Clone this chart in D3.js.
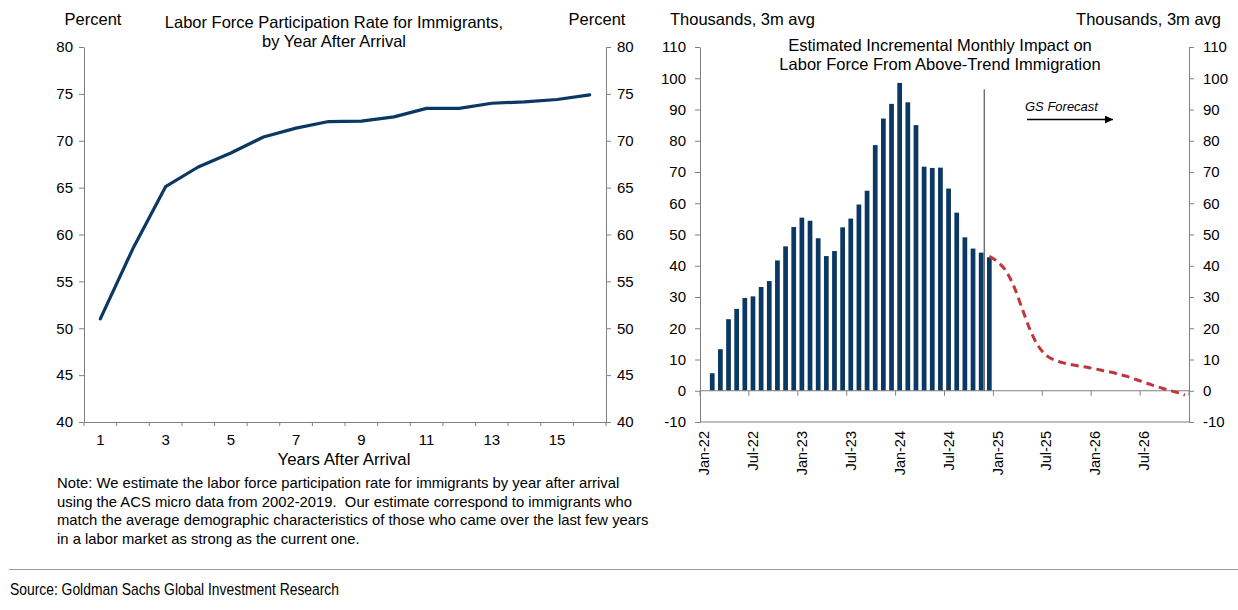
<!DOCTYPE html>
<html><head><meta charset="utf-8">
<script src="https://cdn.jsdelivr.net/npm/d3@7"></script>
<style>
body{margin:0;background:#fff;}
svg text{font-family:"Liberation Sans",Arial,sans-serif;fill:#000;}
</style></head><body>
<svg id="c" width="1238" height="610"></svg>
<script>
// ---------- data ----------
const years = [1,2,3,4,5,6,7,8,9,10,11,12,13,14,15,16];
const lfpr = [51.0,58.5,65.1,67.2,68.7,70.4,71.35,72.05,72.1,72.55,73.45,73.45,74.0,74.15,74.4,74.9];
const yearTickLabels = [1,3,5,7,9,11,13,15];
const leftYTicks = [40,45,50,55,60,65,70,75,80];

const monthLabels = ["Jan-22","Feb-22","Mar-22","Apr-22","May-22","Jun-22","Jul-22","Aug-22","Sep-22","Oct-22","Nov-22","Dec-22",
"Jan-23","Feb-23","Mar-23","Apr-23","May-23","Jun-23","Jul-23","Aug-23","Sep-23","Oct-23","Nov-23","Dec-23",
"Jan-24","Feb-24","Mar-24","Apr-24","May-24","Jun-24","Jul-24","Aug-24","Sep-24","Oct-24","Nov-24","Dec-24",
"Jan-25","Feb-25","Mar-25","Apr-25","May-25","Jun-25","Jul-25","Aug-25","Sep-25","Oct-25","Nov-25","Dec-25",
"Jan-26","Feb-26","Mar-26","Apr-26","May-26","Jun-26","Jul-26","Aug-26","Sep-26","Oct-26","Nov-26","Dec-26"];
const monthTickLabels = ["Jan-22","Jul-22","Jan-23","Jul-23","Jan-24","Jul-24","Jan-25","Jul-25","Jan-26","Jul-26"];
// actual bars: Feb-22 .. Dec-24
const impactStart = "Feb-22";
const impact = [5.6,13.3,22.9,26.2,29.7,30.2,33.2,35.1,41.7,46.2,52.4,55.4,54.4,48.8,43.1,44.7,52.3,55.1,59.6,64.0,
78.6,87.1,91.8,98.5,92.3,85.0,71.7,71.3,71.4,64.7,57.0,49.1,45.5,44.2,42.7];
// GS forecast: Dec-24 .. Dec-26
const forecastStart = "Dec-24";
const forecast = [43.0,41.3,38.5,33.5,26.5,19.5,14.3,11.3,9.8,9.0,8.4,7.9,7.5,7.0,6.4,5.9,5.2,4.5,3.6,2.7,1.8,1.0,0.2,-0.5,-1.4];
const rightYTicks = [-10,0,10,20,30,40,50,60,70,80,90,100,110];

// ---------- styles ----------
const AX = "#808080", NAVY = "#0b3862", RED = "#c0363a";
const svg = d3.select("#c");
const fmt = d => String(d);

function styleAxis(g){
  g.selectAll("path.domain").attr("stroke",AX);
  g.selectAll(".tick line").attr("stroke",AX);
  g.selectAll(".tick text").attr("font-size","15px").attr("fill","#000")
   .attr("font-family",'"Liberation Sans",Arial,sans-serif');
}

// ---------- left chart ----------
const xL = d3.scaleBand().domain(years).range([84,606]);
const yL = d3.scaleLinear().domain([40,80]).range([422,47]);

svg.append("g").attr("transform","translate(84,0)")
  .call(d3.axisLeft(yL).tickValues(leftYTicks).tickFormat(fmt).tickSize(5).tickSizeOuter(0).tickPadding(6)).call(styleAxis);
svg.append("g").attr("transform","translate(606,0)")
  .call(d3.axisRight(yL).tickValues(leftYTicks).tickFormat(fmt).tickSize(5).tickSizeOuter(0).tickPadding(6)).call(styleAxis);
// bottom axis: labels at odd years, ticks at band boundaries
const gxl = svg.append("g").attr("transform","translate(0,422)")
  .call(d3.axisBottom(xL).tickValues(yearTickLabels).tickFormat(fmt).tickSize(0).tickSizeOuter(0).tickPadding(12)).call(styleAxis);
gxl.selectAll(".tick line").remove();
gxl.selectAll(".bt").data(d3.range(years.length+1)).enter().append("line")
  .attr("x1",i=>xL(years[0])+i*xL.step()).attr("x2",i=>xL(years[0])+i*xL.step())
  .attr("y1",0).attr("y2",4).attr("stroke",AX);

svg.append("path").datum(lfpr)
  .attr("fill","none").attr("stroke",NAVY).attr("stroke-width",3.2)
  .attr("stroke-linejoin","round").attr("stroke-linecap","round")
  .attr("d",d3.line().x((d,i)=>xL(years[i])+xL.bandwidth()/2).y(d=>yL(d)));

svg.append("text").attr("x",93).attr("y",25).attr("text-anchor","middle").attr("font-size","16.5px").text("Percent");
svg.append("text").attr("x",597).attr("y",25).attr("text-anchor","middle").attr("font-size","16.5px").text("Percent");
svg.append("text").attr("x",334).attr("y",28).attr("text-anchor","middle").attr("font-size","16.5px").text("Labor Force Participation Rate for Immigrants,");
svg.append("text").attr("x",334).attr("y",47).attr("text-anchor","middle").attr("font-size","16.5px").text("by Year After Arrival");
svg.append("text").attr("x",344).attr("y",465).attr("text-anchor","middle").attr("font-size","16.8px").text("Years After Arrival");

const note = ["Note: We estimate the labor force participation rate for immigrants by year after arrival",
"using the ACS micro data from 2002-2019.  Our estimate correspond to immigrants who",
"match the average demographic characteristics of those who came over the last few years",
"in a labor market as strong as the current one."];
svg.append("g").selectAll("text").data(note).enter().append("text")
  .attr("x",57).attr("y",(d,i)=>488+i*18.5).attr("font-size","14.8px").attr("xml:space","preserve").text(d=>d);

// ---------- right chart ----------
const xR = d3.scaleBand().domain(monthLabels).range([700,1189]);
const yR = d3.scaleLinear().domain([-10,110]).range([422,47]);
const cx = m => xR(m)+xR.bandwidth()/2;

svg.append("g").attr("transform","translate(700,0)")
  .call(d3.axisLeft(yR).tickValues(rightYTicks).tickFormat(fmt).tickSize(5).tickSizeOuter(0).tickPadding(9)).call(styleAxis);
svg.append("g").attr("transform","translate(1189,0)")
  .call(d3.axisRight(yR).tickValues(rightYTicks).tickFormat(fmt).tickSize(5).tickSizeOuter(0).tickPadding(9)).call(styleAxis);
// bottom frame line at -10
svg.append("line").attr("x1",700).attr("x2",1189).attr("y1",yR(-10)).attr("y2",yR(-10)).attr("stroke",AX);

// bars
const i0 = monthLabels.indexOf(impactStart);
const bw = xR.bandwidth()*0.58;
svg.append("g").selectAll("rect").data(impact).enter().append("rect")
  .attr("x",(d,i)=>cx(monthLabels[i0+i])-bw/2).attr("width",bw)
  .attr("y",d=>yR(d)).attr("height",d=>yR(0)-yR(d)).attr("fill",NAVY);

// zero line with ticks every 6 months
svg.append("line").attr("x1",700).attr("x2",1189).attr("y1",yR(0)).attr("y2",yR(0)).attr("stroke",AX);
svg.append("g").selectAll("line").data(d3.range(0,monthLabels.length+1,6)).enter().append("line")
  .attr("x1",i=>700+i*xR.step()).attr("x2",i=>700+i*xR.step())
  .attr("y1",yR(0)).attr("y2",yR(0)+5).attr("stroke",AX);

// month labels (rotated)
svg.append("g").selectAll("text").data(monthTickLabels).enter().append("text")
  .attr("transform",d=>`translate(${cx(d)},${yR(-10)+9}) rotate(-90)`)
  .attr("dy","0.35em").attr("text-anchor","end").attr("font-size","14.5px").text(d=>d);

// forecast divider
const divX = xR("Dec-24");
svg.append("line").attr("x1",divX-1).attr("x2",divX-1).attr("y1",yR(96.5)).attr("y2",yR(0))
  .attr("stroke","#555").attr("stroke-width",1.2);

// forecast line
const f0 = monthLabels.indexOf(forecastStart);
svg.append("path").datum(forecast)
  .attr("fill","none").attr("stroke",RED).attr("stroke-width",3).attr("stroke-dasharray","8,5")
  .attr("d",d3.line().curve(d3.curveMonotoneX).x((d,i)=>cx(monthLabels[f0+i])).y(d=>yR(d)));

// GS forecast annotation
svg.append("text").attr("x",1025).attr("y",111).attr("font-size","13px").attr("font-style","italic").text("GS Forecast");
svg.append("defs").append("marker").attr("id","ah").attr("viewBox","0 0 10 10").attr("refX",10).attr("refY",5)
  .attr("markerWidth",9).attr("markerHeight",8).attr("markerUnits","userSpaceOnUse").attr("orient","auto")
  .append("path").attr("d","M0,0L10,5L0,10Z").attr("fill","#000");
svg.append("line").attr("x1",1027).attr("x2",1113).attr("y1",119.5).attr("y2",119.5)
  .attr("stroke","#000").attr("stroke-width",1.3).attr("marker-end","url(#ah)");

svg.append("text").attr("x",670).attr("y",25).attr("font-size","16.5px").text("Thousands, 3m avg");
svg.append("text").attr("x",1221).attr("y",25).attr("text-anchor","end").attr("font-size","16.5px").text("Thousands, 3m avg");
svg.append("text").attr("x",940).attr("y",51).attr("text-anchor","middle").attr("font-size","16.5px").text("Estimated Incremental Monthly Impact on");
svg.append("text").attr("x",940).attr("y",70).attr("text-anchor","middle").attr("font-size","16.5px").text("Labor Force From Above-Trend Immigration");

// ---------- footer ----------
svg.append("line").attr("x1",9).attr("x2",1238).attr("y1",569.5).attr("y2",569.5).attr("stroke","#999").attr("stroke-width",1);
svg.append("text").attr("x",10).attr("y",595).attr("font-size","17px").attr("fill","#333")
  .attr("textLength",329).attr("lengthAdjust","spacingAndGlyphs")
  .text("Source: Goldman Sachs Global Investment Research");
</script></body></html>
